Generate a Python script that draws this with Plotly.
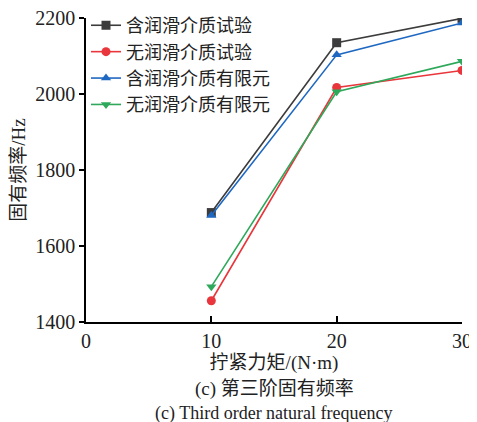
import plotly.graph_objects as go

x_vals = [10, 20, 30]
names = ["含润滑介质试验", "无润滑介质试验", "含润滑介质有限元", "无润滑介质有限元"]
y_lub_test = [1688, 2135, 2199]
y_nolub_test = [1456, 2017, 2062]
y_lub_fem = [1680, 2103, 2187]
y_nolub_fem = [1493, 2006, 2086]
series = [y_lub_test, y_nolub_test, y_lub_fem, y_nolub_fem]
colors = ["#3c3c3c", "#e8363c", "#1f68c2", "#2ea85a"]
symbols = ["square", "circle", "triangle-up", "triangle-down"]
x_ticks = [0, 10, 20, 30]
y_ticks = [1400, 1600, 1800, 2000, 2200]
caption_cn = "(c) 第三阶固有频率"
caption_en = "(c) Third order natural frequency"

serif = "Liberation Serif, Noto Sans CJK SC, serif"

# page pixel geometry of plot area (the page adds an 8px body margin)
off = 8
plot_l, plot_r, plot_t, plot_b = 86, 462, 18, 322
W, H = 477, 422

fig = go.Figure()
for n, ys, c, s in zip(names, series, colors, symbols):
    fig.add_trace(go.Scatter(x=x_vals, y=ys, name=n, mode="lines+markers",
                             line=dict(color=c, width=1.6),
                             marker=dict(symbol=s, size=9, color=c)))

fig.update_layout(
    width=W, height=H,
    margin=dict(l=plot_l - off, r=W - plot_r + off, t=plot_t - off, b=H - plot_b + off,
                autoexpand=False),
    paper_bgcolor="white", plot_bgcolor="white",
    font=dict(family=serif, size=20, color="#222"),
    showlegend=True,
    legend=dict(x=0.0, y=1.036, xanchor="left", yanchor="top",
                bgcolor="rgba(0,0,0,0)", font=dict(size=18),
                tracegroupgap=0, itemwidth=30),
    xaxis=dict(range=[0, 30], tickvals=x_ticks, ticklabeloverflow="allow",
               showline=True, linecolor="black", linewidth=1.5,
               ticks="inside", ticklen=6, tickwidth=1.5, tickcolor="black",
               showgrid=False, zeroline=False, tickfont=dict(size=20),
               title=dict(text="拧紧力矩/(N·m)", standoff=2, font=dict(size=19))),
    yaxis=dict(range=[1400, 2200], tickvals=y_ticks, ticklabeloverflow="allow",
               showline=True, linecolor="black", linewidth=1.5,
               ticks="outside", ticklen=5, tickwidth=1.5, tickcolor="black",
               showgrid=False, zeroline=False, tickfont=dict(size=20),
               title=dict(text="固有频率/Hz", standoff=8, font=dict(size=19))),
)

ph = plot_b - plot_t
fig.add_annotation(text=caption_cn, x=0.5, xref="paper", y=(plot_b - 389) / ph, yref="paper",
                   yanchor="middle", showarrow=False, font=dict(size=19))
fig.add_annotation(text=caption_en, x=0.5, xref="paper", y=(plot_b - 413) / ph, yref="paper",
                   yanchor="middle", showarrow=False, font=dict(size=18))

fig.write_html("out.html")
